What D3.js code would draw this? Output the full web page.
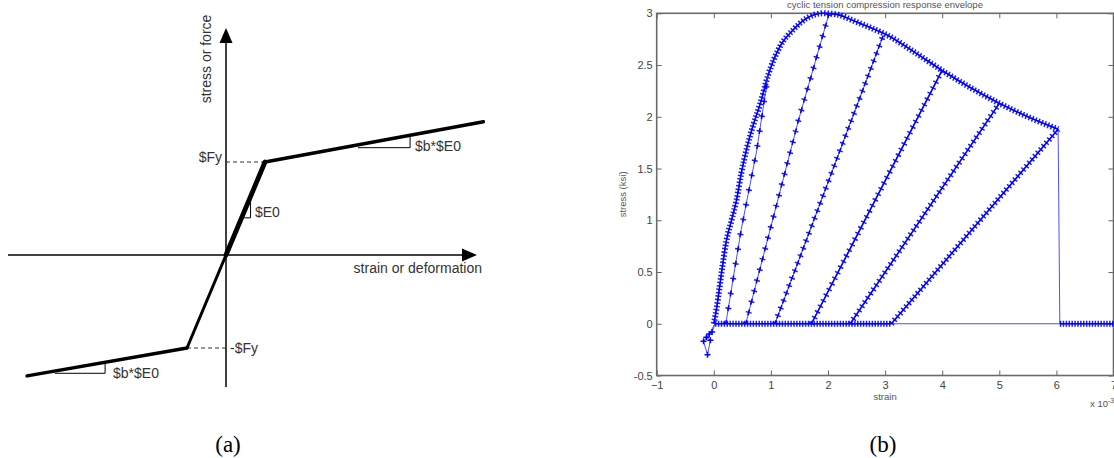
<!DOCTYPE html>
<meta charset="utf-8">
<style>
body { margin: 0; background: #fff; }
svg { display: block; }
.lbl { font: 14px "Liberation Sans", Arial, sans-serif; fill: #333; }
.axb .tick text { font: 11px "Liberation Sans", Arial, sans-serif; fill: #444; }
.axb .tick line { stroke: #666; stroke-width: 1; }
.small { font: 9.5px "Liberation Sans", Arial, sans-serif; fill: #555; }
.cap { font: 23px "Liberation Serif", "Times New Roman", serif; fill: #000; }
.trace { fill: none; stroke: #3a3aff; stroke-width: 0.9; }
</style>
<body>
<svg id="fig" width="1114" height="458"></svg>
<script src="https://d3js.org/d3.v7.min.js"></script>
<script>
// ---------- panel (a) : bilinear backbone, normalised so Fy = 1 and eps_y = 1
var backStrain = [-5.1, -1, 0, 1, 6.6];
var backStress = [-1.30, -1, 0, 1, 1.433];
var yieldStress = [1, -1];

// ---------- panel (b) : cyclic tension response, strain in 1e-3
var xTicks = [-1, 0, 1, 2, 3, 4, 5, 6, 7];
var yTicks = [-0.5, 0, 0.5, 1, 1.5, 2, 2.5, 3];
var envStrain = [0, 0.05, 0.1, 0.15, 0.22, 0.31, 0.4, 0.48, 0.58, 0.69, 0.81, 0.95, 1.16, 1.39, 1.62, 1.91, 2.15, 2.44, 2.79, 3.0, 3.5, 4.02, 4.5, 5.0, 5.5, 6.03];
var envStress = [0, 0.15, 0.35, 0.55, 0.8, 1.0, 1.2, 1.45, 1.7, 1.92, 2.12, 2.4, 2.68, 2.84, 2.95, 3.0, 2.99, 2.93, 2.85, 2.8, 2.63, 2.44, 2.28, 2.13, 2.0, 1.88];
var reloadA = [[0.21, 0], [0.48, 0.91], [0.75, 1.67], [0.95, 2.40]];
var reloadB = [[0.56, 0], [1.01, 0.96], [1.48, 1.96], [2.02, 3.0]];
var reloadC = [[1.07, 0], [2.97, 2.79]];
var reloadD = [[1.71, 0], [4.0, 2.45]];
var reloadE = [[2.39, 0], [5.0, 2.13]];
var reloadF = [[3.11, 0], [6.03, 1.88]];
var zeroLoaded = [[0.02, 0], [3.11, 0]];
var zeroPlain = [[3.11, 0], [6.06, 0]];
var zeroAfter = [[6.06, 0], [7, 0]];
var drop = [[6.03, 1.88], [6.06, 0]];
var compression = [[0.02, 0], [-0.08, -0.10], [-0.18, -0.17], [-0.11, -0.30], [-0.06, -0.16], [-0.13, -0.13], [-0.03, -0.08], [0.02, 0]];

var svg = d3.select("#fig");
svg.append("defs").append("filter").attr("id", "soft")
	.append("feGaussianBlur").attr("stdDeviation", 0.45);

// ================= panel (a)
var xA = d3.scaleLinear().domain([0, 1]).range([226, 265]);
var yA = d3.scaleLinear().domain([0, 1]).range([255, 162]);
var ga = svg.append("g");

// axes with arrow heads
ga.append("line").attr("x1", xA(0)).attr("x2", xA(0)).attr("y1", yA(-1.42)).attr("y2", 40)
	.attr("stroke", "#000").attr("stroke-width", 1.5);
ga.append("line").attr("x1", 8).attr("x2", 465).attr("y1", yA(0)).attr("y2", yA(0))
	.attr("stroke", "#000").attr("stroke-width", 1.5);
ga.append("path").attr("d", "M" + xA(0) + ",28L" + (xA(0) - 6.5) + ",43L" + (xA(0) + 6.5) + ",43Z");
ga.append("path").attr("d", "M477," + yA(0) + "L462," + (yA(0) - 6.5) + "L462," + (yA(0) + 6.5) + "Z");

// dashed yield levels
yieldStress.forEach(function(s) {
	var e = s > 0 ? backStrain[3] : backStrain[1];
	ga.append("line").attr("x1", xA(0)).attr("x2", xA(e)).attr("y1", yA(s)).attr("y2", yA(s))
		.attr("stroke", "#333").attr("stroke-width", 1).attr("stroke-dasharray", "4 3");
});

// slope triangles
var tri = [
	[[0.40, 0.40], [0.63, 0.40], [0.63, 0.63]],
	[[3.385, 1.154], [4.72, 1.154], [4.72, 1.288]],
	[[-4.385, -1.272], [-3.10, -1.272], [-3.10, -1.154]]
];
tri.forEach(function(t) {
	ga.append("path").attr("d", d3.line().x(function(p) { return xA(p[0]); }).y(function(p) { return yA(p[1]); })(t))
		.attr("fill", "none").attr("stroke", "#000").attr("stroke-width", 1);
});

// backbone segments (thickness differs per segment)
var segW = [3.5, 3, 4.8, 3.5];
for (var i = 0; i < backStrain.length - 1; i++) {
	ga.append("line")
		.attr("x1", xA(backStrain[i])).attr("y1", yA(backStress[i]))
		.attr("x2", xA(backStrain[i + 1])).attr("y2", yA(backStress[i + 1]))
		.attr("stroke", "#000").attr("stroke-width", segW[i]).attr("stroke-linecap", "round");
}

ga.append("text").attr("class", "lbl").attr("x", 222).attr("y", 162).attr("text-anchor", "end").text("$Fy");
ga.append("text").attr("class", "lbl").attr("x", 230).attr("y", 353).text("-$Fy");
ga.append("text").attr("class", "lbl").attr("x", 255).attr("y", 217).text("$E0");
ga.append("text").attr("class", "lbl").attr("x", 415).attr("y", 151).text("$b*$E0");
ga.append("text").attr("class", "lbl").attr("x", 113).attr("y", 378).text("$b*$E0");
ga.append("text").attr("class", "lbl").attr("x", 482).attr("y", 273).attr("text-anchor", "end").text("strain or deformation");
ga.append("text").attr("class", "lbl").attr("transform", "translate(211,59) rotate(-90)")
	.attr("text-anchor", "middle").text("stress or force");

// ================= panel (b)
var xB = d3.scaleLinear().domain([-1, 7]).range([656.7, 1113.5]);
var yB = d3.scaleLinear().domain([-0.5, 3]).range([375.5, 13.3]);
var gb = svg.append("g");

gb.append("text").attr("class", "small").attr("x", 885).attr("y", 8).attr("text-anchor", "middle")
	.text("cyclic tension compression response envelope");

gb.append("g").attr("class", "axb").attr("transform", "translate(0," + yB(-0.5) + ")")
	.call(d3.axisBottom(xB).tickValues(xTicks).tickSize(-5).tickPadding(6).tickFormat(d3.format("d")))
	.call(function(g) { g.select(".domain").remove(); });
gb.append("g").attr("class", "axb").attr("transform", "translate(0," + yB(3) + ")")
	.call(d3.axisTop(xB).tickValues(xTicks).tickSize(-5).tickFormat(""))
	.call(function(g) { g.select(".domain").remove(); });
gb.append("g").attr("class", "axb").attr("transform", "translate(" + xB(-1) + ",0)")
	.call(d3.axisLeft(yB).tickValues(yTicks).tickSize(-5).tickPadding(4).tickFormat(function(d) { return String(d); }))
	.call(function(g) { g.select(".domain").remove(); });
gb.append("g").attr("class", "axb").attr("transform", "translate(" + xB(7) + ",0)")
	.call(d3.axisRight(yB).tickValues(yTicks).tickSize(-5).tickFormat(""))
	.call(function(g) { g.select(".domain").remove(); });
gb.append("rect").attr("x", xB(-1)).attr("y", yB(3)).attr("width", xB(7) - xB(-1)).attr("height", yB(-0.5) - yB(3))
	.attr("fill", "none").attr("stroke", "#6a6a6a").attr("stroke-width", 1.6);

gb.append("text").attr("class", "small").attr("x", xB(3)).attr("y", 400).attr("text-anchor", "middle").text("strain");
gb.append("text").attr("class", "small").attr("transform", "translate(626," + yB(1.25) + ") rotate(-90)")
	.attr("text-anchor", "middle").text("stress (ksi)");
var ex = gb.append("text").attr("class", "small").attr("x", 1090).attr("y", 407);
ex.append("tspan").text("x 10");
ex.append("tspan").attr("dy", -4).style("font-size", "7px").text("-3");

// data
var plot = gb.append("g").attr("filter", "url(#soft)");
var lineB = d3.line().x(function(p) { return xB(p[0]); }).y(function(p) { return yB(p[1]); });

// line drawn with '+' markers every `gap` px along the path
function marked(pts, gap, curve) {
	var d = lineB.curve(curve || d3.curveLinear)(pts);
	plot.append("path").attr("class", "trace").attr("d", d);
	plot.append("path").attr("d", d).attr("fill", "none").attr("stroke", "#0000ff")
		.attr("stroke-width", 6).attr("stroke-opacity", 0.9)
		.attr("stroke-dasharray", "1.5 " + (gap - 1.5));
	if (gap > 7) {
		plot.append("path").attr("d", d).attr("fill", "none").attr("stroke", "#0000ff")
			.attr("stroke-width", 1.6).attr("stroke-dasharray", "6 " + (gap - 6)).attr("stroke-dashoffset", 2.25);
	} else {
		plot.append("path").attr("d", d).attr("fill", "none").attr("stroke", "#0000ff").attr("stroke-width", 1.6);
	}
}
function plain(pts) {
	plot.append("path").attr("class", "trace").attr("d", lineB.curve(d3.curveLinear)(pts));
}

plain(zeroPlain);
plain(drop);
marked(zeroLoaded, 2.9);
marked(zeroAfter, 2.9);
marked(d3.zip(envStrain, envStress), 3.4, d3.curveMonotoneX);
marked(reloadA, 15);
marked(reloadB, 11);
marked(reloadC, 8);
marked(reloadD, 6.3);
marked(reloadE, 5.1);
marked(reloadF, 4.4);

plain(compression);
plot.selectAll(".cm").data(compression.slice(1, -1)).enter().append("path")
	.attr("d", function(p) {
		var x = xB(p[0]), y = yB(p[1]);
		return "M" + (x - 3) + "," + y + "h6M" + x + "," + (y - 3) + "v6";
	})
	.attr("stroke", "#0000ff").attr("stroke-width", 1.5);

// captions
svg.append("text").attr("class", "cap").attr("x", 228).attr("y", 452).attr("text-anchor", "middle").text("(a)");
svg.append("text").attr("class", "cap").attr("x", 883).attr("y", 452).attr("text-anchor", "middle").text("(b)");
</script>
</body>
